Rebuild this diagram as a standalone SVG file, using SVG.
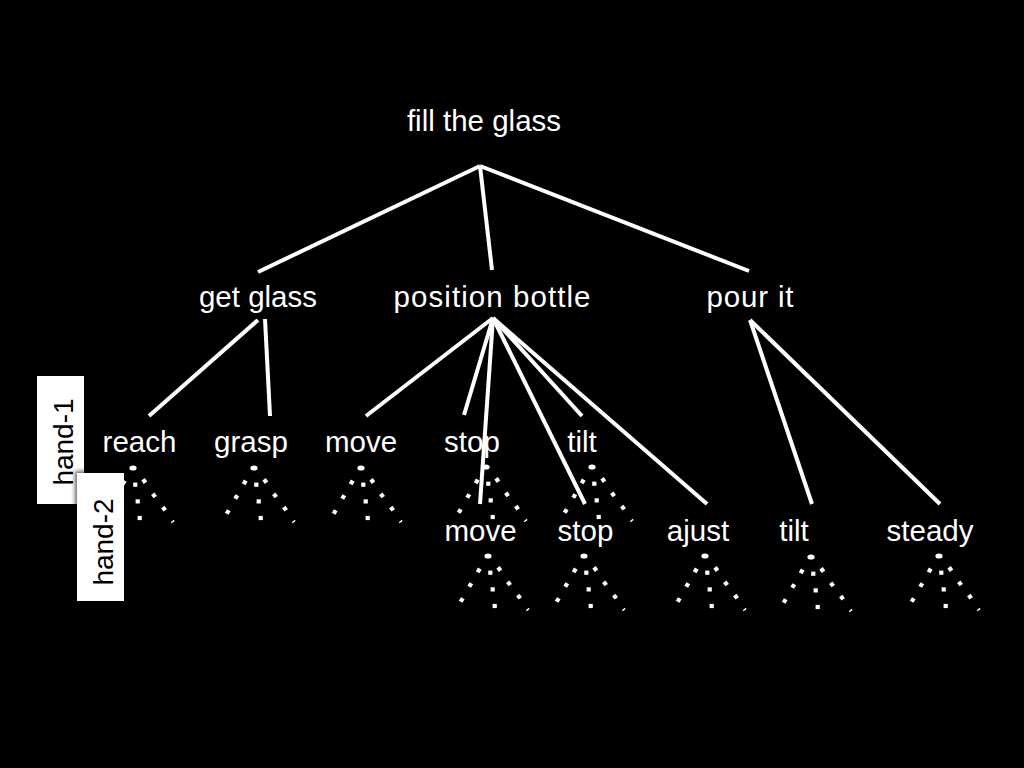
<svg xmlns="http://www.w3.org/2000/svg" xmlns:xlink="http://www.w3.org/1999/xlink" width="1024" height="768" viewBox="0 0 1024 768">
<style>
  .lbl { font-family: "Liberation Sans", Arial, sans-serif; font-size: 29.5px; fill: #fff; text-anchor: middle; }
  .hand { font-family: "Liberation Sans", Arial, sans-serif; font-size: 28px; fill: #000; text-anchor: middle; }
  .edge { stroke: #fff; stroke-width: 4; fill: none; stroke-linecap: butt; }
  .dot { fill: #fff; }
</style>
<defs>
  <g id="fan">
    <ellipse cx="0" cy="0" rx="3.6" ry="2.6" class="dot"/>
    <rect x="-2.1" y="-2.1" width="4.2" height="4.2" class="dot" transform="translate(-9.3,14.4) rotate(30)"/>
    <rect x="-2.1" y="-2.1" width="4.2" height="4.2" class="dot" transform="translate(-17.7,29) rotate(30)"/>
    <rect x="-2.1" y="-2.1" width="4.2" height="4.2" class="dot" transform="translate(-26.3,44) rotate(30)"/>
    <rect x="-2.1" y="-2.1" width="4.2" height="4.2" class="dot" transform="translate(2.3,16.7)"/>
    <rect x="-2.1" y="-2.1" width="4.2" height="4.2" class="dot" transform="translate(4.7,33.4)"/>
    <rect x="-2.1" y="-2.1" width="4.2" height="4.2" class="dot" transform="translate(6.7,50)"/>
    <rect x="-2.1" y="-2.1" width="4.2" height="4.2" class="dot" transform="translate(11.3,13) rotate(-35)"/>
    <rect x="-2.1" y="-2.1" width="4.2" height="4.2" class="dot" transform="translate(21,27.4) rotate(-35)"/>
    <rect x="-2.1" y="-2.1" width="4.2" height="4.2" class="dot" transform="translate(31,40.7) rotate(-35)"/>
    <line x1="38.2" y1="54.8" x2="41.2" y2="52.4" stroke="#fff" stroke-width="1.4"/>
  </g>
  <filter id="shadow" x="-30%" y="-30%" width="160%" height="160%">
    <feDropShadow dx="-2" dy="-2" stdDeviation="2" flood-color="#000" flood-opacity="0.6"/>
  </filter>
</defs>
<rect x="0" y="0" width="1024" height="768" fill="#000"/>

<g id="connectors">
  <line class="edge" x1="480" y1="166" x2="258" y2="272"/>
  <line class="edge" x1="480" y1="166" x2="492" y2="270"/>
  <line class="edge" x1="480" y1="166" x2="749" y2="271"/>
  <line class="edge" x1="258" y1="320" x2="149" y2="416"/>
  <line class="edge" x1="265" y1="319" x2="270" y2="416"/>
  <line class="edge" x1="493" y1="318" x2="366" y2="416"/>
  <line class="edge" x1="493" y1="318" x2="464" y2="415"/>
  <line class="edge" x1="493" y1="318" x2="480" y2="504"/>
  <line class="edge" x1="493" y1="318" x2="585" y2="504"/>
  <line class="edge" x1="493" y1="318" x2="582" y2="416"/>
  <line class="edge" x1="493" y1="318" x2="707" y2="504"/>
  <line class="edge" x1="750" y1="320" x2="812" y2="504"/>
  <line class="edge" x1="750" y1="320" x2="940" y2="504"/>
</g>

<g id="node-fill"><text class="lbl" x="484" y="131">fill the glass</text></g>
<g id="node-get-glass"><text class="lbl" x="258" y="307">get glass</text></g>
<g id="node-position-bottle"><text class="lbl" x="492" y="307" textLength="197" lengthAdjust="spacing">position bottle</text></g>
<g id="node-pour-it"><text class="lbl" x="750" y="307" textLength="87" lengthAdjust="spacing">pour it</text></g>

<g id="node-reach"><text class="lbl" x="139.5" y="452">reach</text><use xlink:href="#fan" x="133" y="468"/></g>
<g id="node-grasp"><text class="lbl" x="251" y="452">grasp</text><use xlink:href="#fan" x="254" y="468"/></g>
<g id="node-move1"><text class="lbl" x="361" y="452">move</text><use xlink:href="#fan" x="361" y="468"/></g>
<g id="node-stop1"><text class="lbl" x="472" y="452">stop</text><use xlink:href="#fan" x="486" y="467"/></g>
<g id="node-tilt1"><text class="lbl" x="582" y="452">tilt</text><use xlink:href="#fan" x="592" y="467"/></g>

<g id="node-move2"><text class="lbl" x="480.5" y="541">move</text><use xlink:href="#fan" x="488" y="556"/></g>
<g id="node-stop2"><text class="lbl" x="585.5" y="541">stop</text><use xlink:href="#fan" x="584" y="556"/></g>
<g id="node-ajust"><text class="lbl" x="698" y="541">ajust</text><use xlink:href="#fan" x="705" y="556"/></g>
<g id="node-tilt2"><text class="lbl" x="794" y="541">tilt</text><use xlink:href="#fan" x="811" y="557"/></g>
<g id="node-steady"><text class="lbl" x="930" y="541">steady</text><use xlink:href="#fan" x="939" y="556"/></g>

<g id="hand-1">
  <rect x="37" y="376" width="47" height="128" fill="#fff"/>
  <text class="hand" transform="translate(73,442) rotate(-90)">hand-1</text>
</g>
<g id="hand-2">
  <rect x="77" y="473" width="47" height="128" fill="#fff" filter="url(#shadow)"/>
  <text class="hand" transform="translate(113,542) rotate(-90)">hand-2</text>
</g>
</svg>
